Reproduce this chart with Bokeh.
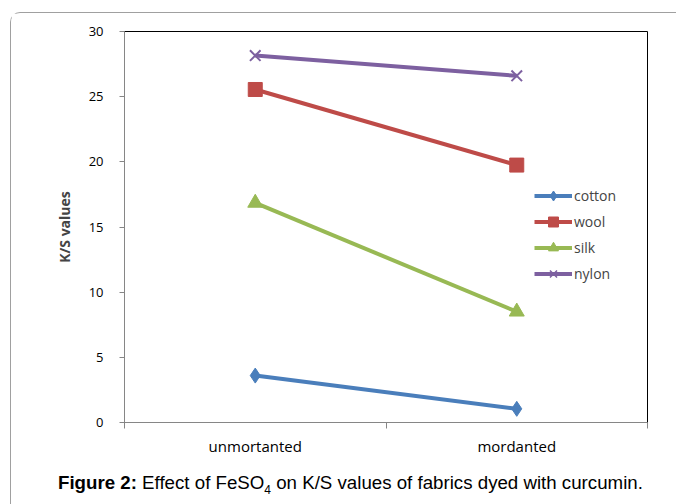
from bokeh.plotting import figure
from bokeh.models import (Range1d, FixedTicker, Legend, LegendItem, Div,
                          ColumnDataSource)
from bokeh.layouts import column
from bokeh.embed import file_html
from bokeh.resources import INLINE

# ---- data ----
categories = ["unmortanted", "mordanted"]
cotton = [3.6, 1.05]
wool = [25.55, 19.75]
silk = [16.85, 8.5]
nylon = [28.15, 26.6]
y_ticks = [0, 5, 10, 15, 20, 25, 30]
legend_labels = ["cotton", "wool", "silk", "nylon"]
caption_html = ("<b>Figure 2:</b> Effect of FeSO<sub style='font-size:12px'>4</sub> "
                "on K/S values of fabrics dyed with curcumin.")

series = [
    (legend_labels[0], cotton, "#4A7EBB", "diamond"),
    (legend_labels[1], wool, "#BE4B48", "square"),
    (legend_labels[2], silk, "#98B954", "triangle"),
    (legend_labels[3], nylon, "#7D60A0", "x"),
]

xs = [i + 0.5 for i in range(len(categories))]

W, H = 655, 459
BL, BR, BT, BB = 113, 19, 18, 50

p = figure(width=W, height=H, output_backend="svg", toolbar_location=None,
           x_range=Range1d(0, len(categories)), y_range=Range1d(0, 30),
           min_border_left=BL, min_border_right=BR, min_border_top=BT,
           min_border_bottom=BB)
p.background_fill_color = "white"
p.border_fill_color = "white"
p.grid.visible = False
p.outline_line_color = "#000000"
p.outline_line_width = 1

# y axis
ya = p.yaxis[0]
ya.ticker = FixedTicker(ticks=y_ticks)
ya.axis_line_color = "#868686"
ya.major_tick_line_color = "#868686"
ya.major_tick_in = 0
ya.major_tick_out = 5
ya.minor_tick_line_color = None
ya.major_label_text_font = "Open Sans"
ya.major_label_text_font_size = "13px"
ya.major_label_text_color = "#000000"
ya.major_label_standoff = 16
ya.axis_label = "K/S values"
ya.axis_label_text_font = "Open Sans"
ya.axis_label_text_font_style = "bold"
ya.axis_label_text_font_size = "14px"
ya.axis_label_standoff = 12

# x axis: labels at category centres, tick marks at category borders
xa = p.xaxis[0]
xa.ticker = FixedTicker(ticks=xs, minor_ticks=list(range(len(categories) + 1)))
xa.major_label_overrides = {x: c for x, c in zip(xs, categories)}
xa.axis_line_color = "#868686"
xa.major_tick_line_color = None
xa.minor_tick_line_color = "#868686"
xa.minor_tick_in = 0
xa.minor_tick_out = 6
xa.major_label_text_font = "Open Sans"
xa.major_label_text_font_size = "15px"
xa.major_label_text_color = "#000000"
xa.major_label_standoff = 7

nan = float("nan")
items = []
for name, vals, color, marker in series:
    src = ColumnDataSource(dict(x=xs, y=vals))
    p.line("x", "y", source=src, line_color=color, line_width=4)
    if marker == "x":
        p.scatter("x", "y", source=src, marker="x", size=15, line_color=color,
                  line_width=2)
    else:
        sz = 15 if marker != "square" else 14
        p.scatter("x", "y", source=src, marker=marker, size=sz, fill_color=color,
                  line_color=color)
    # legend glyphs (smaller markers, as in the reference legend)
    lsrc = ColumnDataSource(dict(x=[nan], y=[nan]))
    lr = p.line("x", "y", source=lsrc, line_color=color, line_width=4)
    if marker == "x":
        lm = p.scatter("x", "y", source=lsrc, marker="x", size=10,
                       line_color=color, line_width=1.5)
    else:
        lm = p.scatter("x", "y", source=lsrc, marker=marker, size=10,
                       fill_color=color, line_color=color)
    items.append(LegendItem(label=name, renderers=[lr, lm]))

legend = Legend(items=items, location=(410, 136), glyph_width=38,
                glyph_height=25, spacing=1, padding=0, margin=0,
                label_text_font="Open Sans", label_text_font_size="14px",
                label_standoff=2, border_line_color=None,
                background_fill_alpha=0)
p.add_layout(legend, "center")

caption = Div(text=caption_html, width=W, height=22,
              styles={"font-family": "Liberation Sans, Arial, sans-serif",
                      "font-size": "18.7px", "line-height": "22px",
                      "padding-left": "42px", "color": "#000000",
                      "white-space": "nowrap", "position": "relative",
                      "top": "-5px"})

layout = column(p, caption, spacing=0, margin=(12, 0, 0, 10),
                styles={"border-top": "1px solid #a0a0a0",
                        "border-left": "1px solid #a0a0a0",
                        "border-top-left-radius": "10px",
                        "background-color": "white"})

open("out.html", "w").write(file_html(layout, INLINE))
